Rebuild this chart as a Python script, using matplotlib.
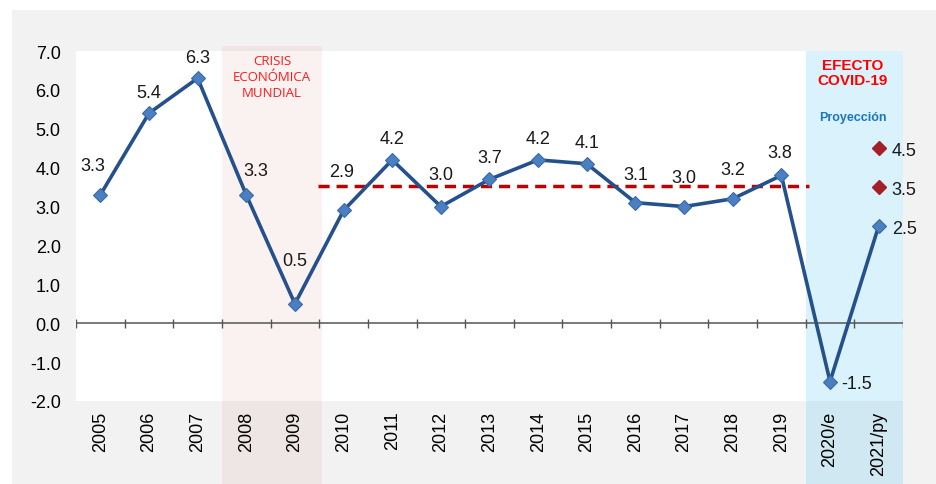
import numpy as np
import matplotlib
matplotlib.use("Agg")
import matplotlib.pyplot as plt
from matplotlib.patches import Rectangle
from matplotlib.transforms import blended_transform_factory

plt.rcParams["font.family"] = ["Liberation Sans", "DejaVu Sans"]

years = ["2005", "2006", "2007", "2008", "2009", "2010", "2011", "2012", "2013",
         "2014", "2015", "2016", "2017", "2018", "2019", "2020/e", "2021/py"]
growth = [3.3, 5.4, 6.3, 3.3, 0.5, 2.9, 4.2, 3.0, 3.7, 4.2, 4.1, 3.1, 3.0, 3.2, 3.8, -1.5, 2.5]
alt_scen = [4.5, 3.5]          # red projection points for 2021/py
avg_line = 3.53                # dashed average 2010-2019
yticks = [7.0, 6.0, 5.0, 4.0, 3.0, 2.0, 1.0, 0.0, -1.0, -2.0]

# label offsets in pixels (dx, dy) relative to each point -- styling only
lab_off = [(-8, 29), (0, 21), (0, 21), (10, 24), (0, 43), (-2, 39), (0, 21), (0, 32),
           (0, 22), (0, 21), (0, 21), (0, 28), (0, 29), (0, 29), (-2, 23), (11, -2), (13, -2)]

W, H = 937, 485
fig = plt.figure(figsize=(W / 100, H / 100), dpi=100)
fig.patches.append(Rectangle((12 / W, 0), 1, (H - 11) / H, transform=fig.transFigure,
                             facecolor="#f2f2f2", edgecolor="none", zorder=-10))
ax = fig.add_axes([76 / W, (H - 402) / H, 827 / W, 350 / H])
ax.set_facecolor("white")
n = len(years)
x = np.arange(n)
ax.set_xlim(-0.5, n - 0.5)
ax.set_ylim(-2, 7)
for s in ax.spines.values():
    s.set_visible(False)

# shaded periods (extend down into the label band)
tr = blended_transform_factory(ax.transData, fig.transFigure)
ax.add_patch(Rectangle((2.5, 0), 2.05, (H - 47) / H, transform=tr, clip_on=False,
                       facecolor="#c86464", alpha=0.09, edgecolor="none", zorder=0))
ax.add_patch(Rectangle((14.5, 0), 2.0, (H - 52) / H, transform=tr, clip_on=False,
                       facecolor="#4ec3ee", alpha=0.21, edgecolor="none", zorder=0))

# x axis at zero with category ticks
ax.axhline(0, color="#555555", lw=1.1, zorder=2)
ax.vlines(np.arange(n + 1) - 0.5, -0.12, 0.12, color="#555555", lw=1.0, zorder=2)

ax.set_yticks(yticks)
ax.set_yticklabels([f"{v:.1f}" for v in yticks], fontsize=13)
ax.set_xticks(x)
ax.set_xticklabels(years, rotation=90, fontsize=13, va="top")
ax.tick_params(axis="both", length=0)
ax.tick_params(axis="y", pad=11)
ax.tick_params(axis="x", pad=7)

ax.hlines(avg_line, 4.48, 14.56, colors="#c00000", linestyles=(0, (3.2, 2)), lw=2.5, zorder=3)

ax.plot(x, growth, color="#24508c", lw=2.6, marker="D", ms=7.5,
        mfc="#4a7fc1", mec="#3a6aa5", mew=0.8, zorder=4)
ax.plot([n - 1] * len(alt_scen), alt_scen, ls="none", marker="D", ms=7.5,
        mfc="#a41f28", mec="#a41f28", zorder=4)

k = 72 / 100
for xi, v, (dx, dy) in zip(x, growth, lab_off):
    ha = "left" if dx > 10 else "center"
    ax.annotate(f"{v:.1f}", (xi, v), xytext=(dx * k, dy * k), textcoords="offset points",
                ha=ha, va="center", fontsize=13, color="#1a1a1a", zorder=5)
for v in alt_scen:
    ax.annotate(f"{v:.1f}", (n - 1, v), xytext=(13 * k, -2 * k), textcoords="offset points",
                ha="left", va="center", fontsize=13, color="#1a1a1a", zorder=5)

ax.text(3.53, 6.92, "CRISIS\nECONÓMICA\nMUNDIAL", ha="center", va="top", fontsize=9.5,
        color="#ff1a1a", family="Open Sans", linespacing=1.3, zorder=5)
ax.text(15.47, 6.82, "EFECTO\nCOVID-19", ha="center", va="top", fontsize=11,
        color="#ff0000", fontweight="bold", linespacing=1.05, zorder=5)
ax.text(15.47, 5.3, "Proyección", ha="center", va="center", fontsize=9,
        color="#1b75c4", fontweight="bold", zorder=5)

fig.savefig("out.png", dpi=100)
